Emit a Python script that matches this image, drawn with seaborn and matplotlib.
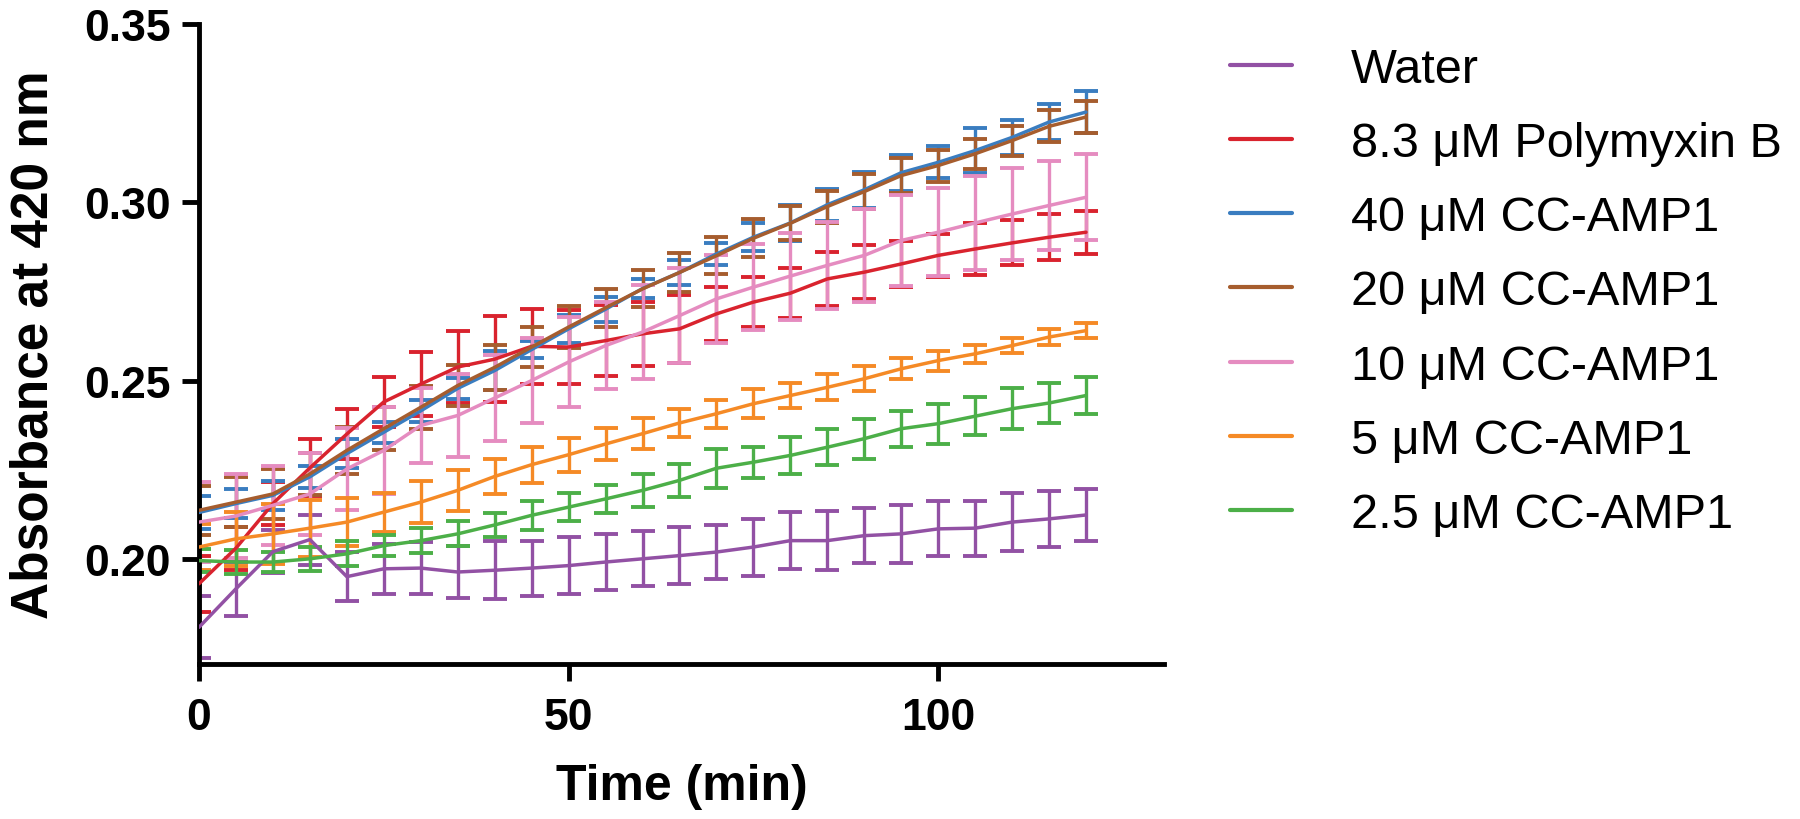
import numpy as np
import pandas as pd
import matplotlib
matplotlib.use("Agg")
import matplotlib.pyplot as plt
import seaborn as sns

# ---------------- data ----------------
time_min = [0, 5, 10, 15, 20, 25, 30, 35, 40, 45, 50, 55, 60,
            65, 70, 75, 80, 85, 90, 95, 100, 105, 110, 115, 120]

series_labels = ["Water", "8.3 \u03bcM Polymyxin B", "40 \u03bcM CC-AMP1",
                 "20 \u03bcM CC-AMP1", "10 \u03bcM CC-AMP1", "5 \u03bcM CC-AMP1",
                 "2.5 \u03bcM CC-AMP1"]

water_mean = [0.1808, 0.1916, 0.2020, 0.2054, 0.1950, 0.1972, 0.1974, 0.1963, 0.1968,
              0.1974, 0.1981, 0.1991, 0.2000, 0.2009, 0.2019, 0.2033, 0.2051, 0.2051,
              0.2065, 0.2070, 0.2084, 0.2086, 0.2103, 0.2112, 0.2123]
water_err = [0.0087, 0.0075, 0.0060, 0.0070, 0.0068, 0.0070, 0.0072, 0.0073, 0.0081,
             0.0077, 0.0081, 0.0078, 0.0077, 0.0080, 0.0076, 0.0080, 0.0080, 0.0083,
             0.0077, 0.0081, 0.0077, 0.0077, 0.0081, 0.0078, 0.0073]

polymyxin_mean = [0.1930, 0.2030, 0.2155, 0.2255, 0.2350, 0.2440, 0.2490, 0.2538, 0.2560,
                  0.2596, 0.2594, 0.2612, 0.2631, 0.2645, 0.2687, 0.2720, 0.2745, 0.2785,
                  0.2804, 0.2827, 0.2851, 0.2869, 0.2886, 0.2902, 0.2916]
polymyxin_err = [0.0078, 0.0060, 0.0060, 0.0080, 0.0070, 0.0070, 0.0090, 0.0100, 0.0120,
                 0.0105, 0.0105, 0.0100, 0.0090, 0.0095, 0.0075, 0.0070, 0.0070, 0.0075,
                 0.0075, 0.0065, 0.0060, 0.0073, 0.0063, 0.0065, 0.0060]

amp40_mean = [0.2130, 0.2155, 0.2178, 0.2230, 0.2295, 0.2355, 0.2415, 0.2478, 0.2528,
              0.2587, 0.2645, 0.2700, 0.2758, 0.2803, 0.2855, 0.2902, 0.2942, 0.2993,
              0.3035, 0.3083, 0.3112, 0.3145, 0.3182, 0.3225, 0.3253]
amp40_err = [0.0047, 0.0040, 0.0040, 0.0030, 0.0040, 0.0030, 0.0030, 0.0030, 0.0055,
             0.0025, 0.0040, 0.0035, 0.0027, 0.0034, 0.0030, 0.0040, 0.0050, 0.0045,
             0.0050, 0.0050, 0.0045, 0.0063, 0.0049, 0.0050, 0.0060]

amp20_mean = [0.2136, 0.2159, 0.2182, 0.2238, 0.2304, 0.2365, 0.2425, 0.2486, 0.2537,
              0.2594, 0.2650, 0.2704, 0.2757, 0.2803, 0.2850, 0.2899, 0.2941, 0.2988,
              0.3030, 0.3075, 0.3103, 0.3136, 0.3173, 0.3213, 0.3239]
amp20_err = [0.0068, 0.0070, 0.0070, 0.0060, 0.0065, 0.0060, 0.0060, 0.0058, 0.0063,
             0.0057, 0.0060, 0.0054, 0.0052, 0.0055, 0.0052, 0.0053, 0.0048, 0.0045,
             0.0050, 0.0050, 0.0045, 0.0042, 0.0042, 0.0045, 0.0045]

amp10_mean = [0.2103, 0.2120, 0.2150, 0.2182, 0.2252, 0.2304, 0.2374, 0.2402, 0.2451,
              0.2500, 0.2552, 0.2598, 0.2636, 0.2682, 0.2729, 0.2762, 0.2793, 0.2823,
              0.2851, 0.2893, 0.2916, 0.2942, 0.2967, 0.2991, 0.3014]
amp10_err = [0.0112, 0.0119, 0.0110, 0.0115, 0.0115, 0.0122, 0.0105, 0.0116, 0.0120,
             0.0120, 0.0126, 0.0122, 0.0132, 0.0133, 0.0124, 0.0120, 0.0122, 0.0123,
             0.0130, 0.0128, 0.0124, 0.0133, 0.0128, 0.0126, 0.0120]

amp5_mean = [0.2033, 0.2056, 0.2070, 0.2086, 0.2103, 0.2131, 0.2159, 0.2192, 0.2231,
             0.2264, 0.2292, 0.2322, 0.2351, 0.2381, 0.2407, 0.2435, 0.2458, 0.2481,
             0.2505, 0.2533, 0.2556, 0.2575, 0.2598, 0.2622, 0.2640]
amp5_err = [0.0065, 0.0075, 0.0085, 0.0080, 0.0068, 0.0055, 0.0058, 0.0058, 0.0049,
            0.0051, 0.0048, 0.0044, 0.0044, 0.0039, 0.0039, 0.0041, 0.0036, 0.0036,
            0.0035, 0.0030, 0.0028, 0.0025, 0.0020, 0.0023, 0.0020]

amp2_5_mean = [0.1995, 0.1991, 0.1991, 0.2000, 0.2014, 0.2037, 0.2051, 0.2070, 0.2095,
               0.2122, 0.2145, 0.2168, 0.2192, 0.2220, 0.2254, 0.2271, 0.2290, 0.2313,
               0.2337, 0.2365, 0.2379, 0.2400, 0.2421, 0.2437, 0.2458]
amp2_5_err = [0.0033, 0.0033, 0.0027, 0.0033, 0.0035, 0.0030, 0.0035, 0.0035, 0.0033,
              0.0040, 0.0039, 0.0040, 0.0046, 0.0046, 0.0055, 0.0044, 0.0053, 0.0051,
              0.0056, 0.0050, 0.0056, 0.0054, 0.0058, 0.0056, 0.0053]

y_ticks = [0.20, 0.25, 0.30, 0.35]
x_ticks = [0, 50, 100]

colors = ["#9251a4", "#d9232e", "#3a7dc0", "#a65d2e", "#e58cc0", "#f58a26", "#4caf48"]

means = [water_mean, polymyxin_mean, amp40_mean, amp20_mean, amp10_mean, amp5_mean, amp2_5_mean]
errs = [water_err, polymyxin_err, amp40_err, amp20_err, amp10_err, amp5_err, amp2_5_err]

# ---------------- frame ----------------
rows = []
for lab, m, e in zip(series_labels, means, errs):
    for t, mv, ev in zip(time_min, m, e):
        rows.append({"Time": t, "Absorbance": mv, "SD": ev, "Treatment": lab})
df = pd.DataFrame(rows)

sns.set_style("ticks")
plt.rcParams["font.family"] = ["Liberation Sans", "DejaVu Sans"]
plt.rcParams["text.color"] = "black"
plt.rcParams["axes.labelcolor"] = "black"
plt.rcParams["xtick.color"] = "black"
plt.rcParams["ytick.color"] = "black"

fig = plt.figure(figsize=(18, 8.2), dpi=100)
ax = fig.add_axes([199 / 1800, 1 - 665 / 820, (1164 - 199) / 1800, (665 - 25) / 820])

palette = dict(zip(series_labels, colors))

# error bars
for lab in series_labels:
    sub = df[df["Treatment"] == lab]
    ax.errorbar(sub["Time"], sub["Absorbance"], yerr=sub["SD"], fmt="none",
                ecolor=palette[lab], elinewidth=2.4, capsize=8.5, capthick=2.8,
                zorder=2)

sns.lineplot(data=df, x="Time", y="Absorbance", hue="Treatment",
             hue_order=series_labels, palette=palette, linewidth=2.5,
             ax=ax, legend=True, zorder=3)

ax.set_xlim(0, 130.55)
ax.set_ylim(0.1705, 0.35)
ax.set_xticks(x_ticks)
ax.set_yticks(y_ticks)
ax.set_yticklabels([f"{v:.2f}" for v in y_ticks])

for side in ["top", "right"]:
    ax.spines[side].set_visible(False)
for side in ["left", "bottom"]:
    ax.spines[side].set_linewidth(3.5)
    ax.spines[side].set_color("black")

ax.tick_params(axis="both", which="major", length=12, width=3.5, color="black",
               labelsize=32, labelcolor="black")
ax.tick_params(axis="y", pad=8)
ax.tick_params(axis="x", pad=12)
for lbl in ax.get_xticklabels() + ax.get_yticklabels():
    lbl.set_fontweight("bold")

ax.set_xlabel("Time (min)", fontsize=36, fontweight="bold", color="black")
ax.set_ylabel("Absorbance at 420 nm", fontsize=37, fontweight="bold", color="black")
ax.xaxis.set_label_coords(0.5, -0.155)
ax.yaxis.set_label_coords(-0.146, 0.5)

handles, labels = ax.get_legend_handles_labels()
leg = ax.legend(handles, labels, loc="upper left",
                bbox_to_anchor=(1230 / 1800, 1 - 48 / 820),
                bbox_transform=fig.transFigure, frameon=False,
                fontsize=35, handlelength=1.28, handletextpad=1.2,
                labelspacing=0.6, borderpad=0, borderaxespad=0)
for line in leg.get_lines():
    line.set_linewidth(3.0)
for txt in leg.get_texts():
    txt.set_color("black")

fig.savefig("out.png", dpi=100, facecolor="white")
